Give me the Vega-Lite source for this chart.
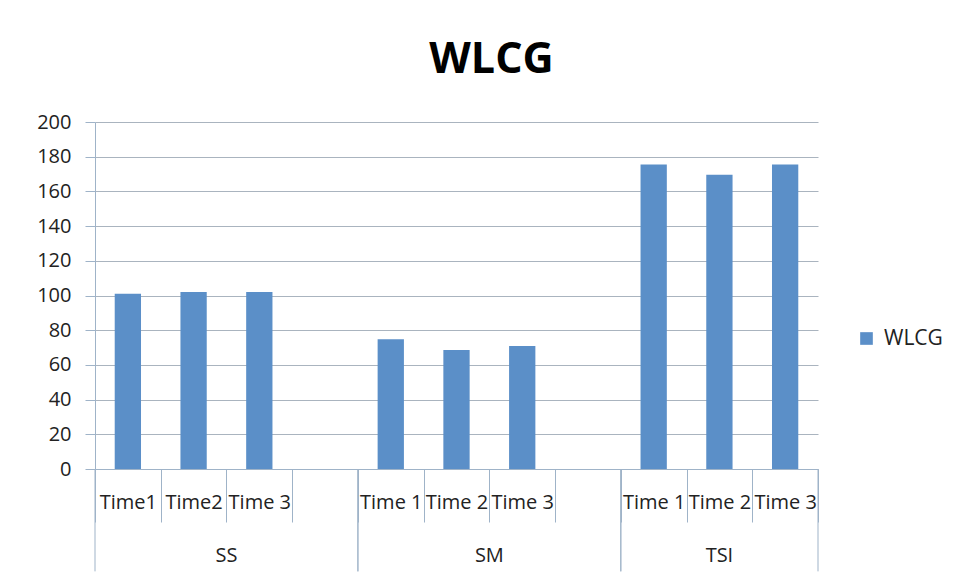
{
  "$schema": "https://vega.github.io/schema/vega-lite/v6.json",
  "width": 723,
  "height": 347,
  "autosize": {"type": "none"},
  "padding": {"left": 95, "top": 122, "right": 143, "bottom": 112},
  "background": "white",
  "config": {"view": {"stroke": null}, "font": "Open Sans"},
  "title": {"text": "WLCG", "fontSize": 43, "font": "Open Sans", "fontWeight": "bold", "color": "#000000", "anchor": "middle", "frame": "group", "dx": 35, "offset": 30},
  "datasets": {
    "bars": [
      {"group": "SS", "time": "Time1", "slot": "SS|Time1", "WLCG": 101},
      {"group": "SS", "time": "Time2", "slot": "SS|Time2", "WLCG": 102},
      {"group": "SS", "time": "Time 3", "slot": "SS|Time 3", "WLCG": 102},
      {"group": "SM", "time": "Time 1", "slot": "SM|Time 1", "WLCG": 74.8},
      {"group": "SM", "time": "Time 2", "slot": "SM|Time 2", "WLCG": 68.6},
      {"group": "SM", "time": "Time 3", "slot": "SM|Time 3", "WLCG": 70.9},
      {"group": "TSI", "time": "Time 1", "slot": "TSI|Time 1", "WLCG": 175.5},
      {"group": "TSI", "time": "Time 2", "slot": "TSI|Time 2", "WLCG": 169.6},
      {"group": "TSI", "time": "Time 3", "slot": "TSI|Time 3", "WLCG": 175.5}
    ],
    "groups": [
      {"group": "SS", "first": "SS|Time1", "last": "SS|", "mid": "SS|Time 3"},
      {"group": "SM", "first": "SM|Time 1", "last": "SM|", "mid": "SM|Time 3"},
      {"group": "TSI", "first": "TSI|Time 1", "last": "TSI|Time 3", "mid": "TSI|Time 2"}
    ]
  },
  "layer": [
    {
      "data": {"name": "bars"},
      "mark": {"type": "bar", "width": {"band": 0.4}},
      "encoding": {
        "x": {
          "field": "slot",
          "type": "nominal",
          "title": null,
          "scale": {
            "domain": ["SS|Time1", "SS|Time2", "SS|Time 3", "SS|", "SM|Time 1", "SM|Time 2", "SM|Time 3", "SM|", "TSI|Time 1", "TSI|Time 2", "TSI|Time 3"],
            "paddingInner": 0,
            "paddingOuter": 0
          },
          "axis": {
            "labelExpr": "split(datum.value, '|')[1]",
            "tickBand": "extent",
            "tickSize": 53,
            "labelPadding": -30,
            "labelAngle": 0,
            "labelOverlap": false,
            "labelFontSize": 20,
            "labelColor": "#222222",
            "labelFont": "Open Sans",
            "domainColor": "#9fb3c8",
            "tickColor": "#9fb3c8",
            "grid": false
          }
        },
        "y": {
          "field": "WLCG",
          "type": "quantitative",
          "title": null,
          "scale": {"domain": [0, 200], "nice": false},
          "axis": {
            "values": [0, 20, 40, 60, 80, 100, 120, 140, 160, 180, 200],
            "tickCount": 12,
            "labelOverlap": false,
            "tickSize": 10,
            "labelPadding": 14,
            "labelFontSize": 20,
            "labelColor": "#222222",
            "labelFont": "Open Sans",
            "domainColor": "#9fb3c8",
            "tickColor": "#9fb3c8",
            "gridColor": "#aab4bf",
            "grid": true
          }
        },
        "color": {
          "datum": "WLCG",
          "type": "nominal",
          "scale": {"range": ["#5b8fc8"]},
          "legend": {
            "title": null,
            "orient": "none",
            "legendX": 761,
            "legendY": 206,
            "symbolType": "square",
            "symbolSize": 160,
            "symbolStrokeWidth": 0,
            "labelFontSize": 21,
            "labelColor": "#222222",
            "labelFont": "Open Sans",
            "labelOffset": 7
          }
        }
      }
    },
    {
      "data": {"name": "groups"},
      "mark": {"type": "rule", "color": "#9fb3c8", "strokeWidth": 1},
      "encoding": {
        "x": {"field": "first", "type": "nominal", "bandPosition": 0},
        "y": {"datum": 0, "type": "quantitative"},
        "y2": {"datum": -59}
      }
    },
    {
      "data": {"name": "groups"},
      "mark": {"type": "rule", "color": "#9fb3c8", "strokeWidth": 1},
      "encoding": {
        "x": {"field": "last", "type": "nominal", "bandPosition": 1},
        "y": {"datum": 0, "type": "quantitative"},
        "y2": {"datum": -59}
      }
    },
    {
      "data": {"name": "groups"},
      "transform": [{"filter": "datum.group !== 'TSI'"}],
      "mark": {"type": "text", "fontSize": 20, "color": "#222222", "font": "Open Sans", "baseline": "middle", "align": "center"},
      "encoding": {
        "x": {"field": "mid", "type": "nominal", "bandPosition": 0},
        "y": {"datum": -50, "type": "quantitative"},
        "text": {"field": "group"}
      }
    },
    {
      "data": {"name": "groups"},
      "transform": [{"filter": "datum.group === 'TSI'"}],
      "mark": {"type": "text", "fontSize": 20, "color": "#222222", "font": "Open Sans", "baseline": "middle", "align": "center"},
      "encoding": {
        "x": {"field": "mid", "type": "nominal", "bandPosition": 0.5},
        "y": {"datum": -50, "type": "quantitative"},
        "text": {"field": "group"}
      }
    }
  ]
}
